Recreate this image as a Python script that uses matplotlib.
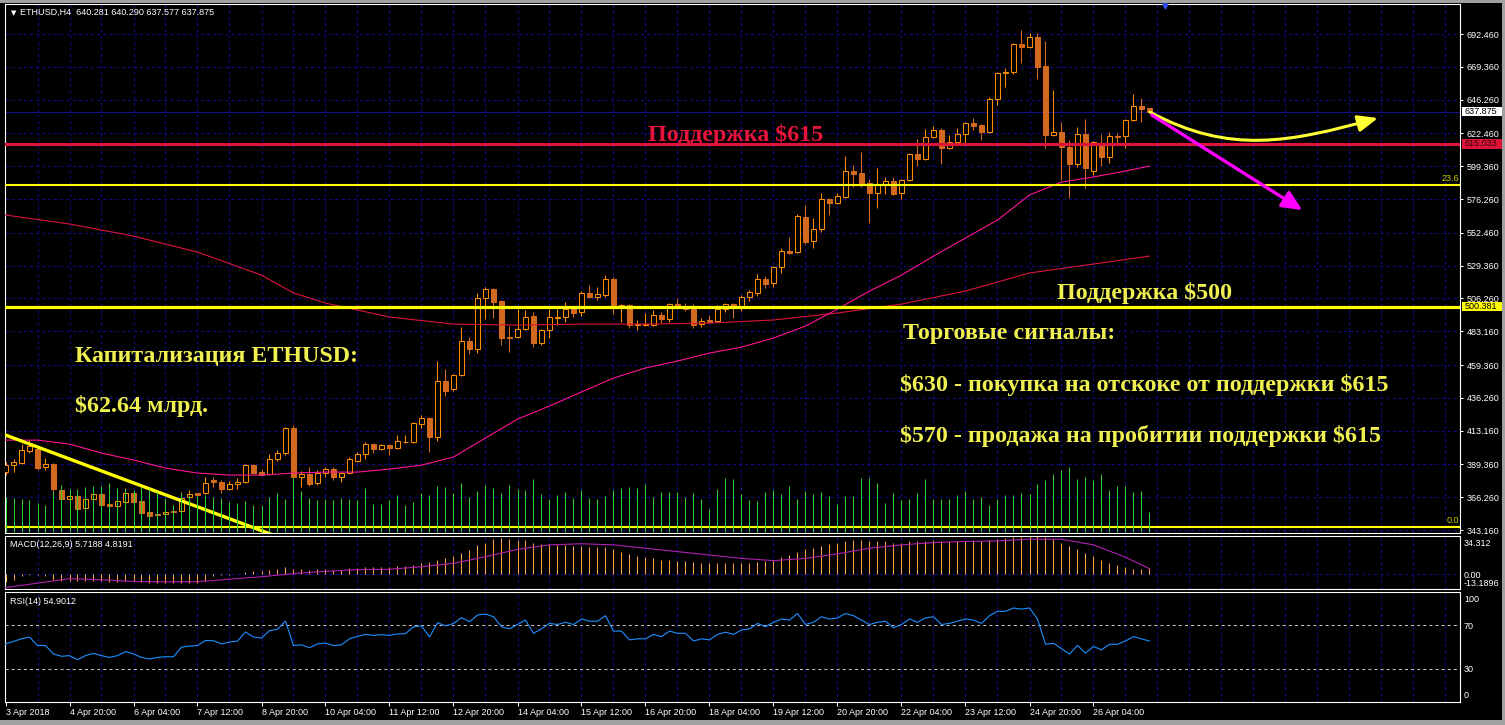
import matplotlib
matplotlib.use('Agg')
import matplotlib.pyplot as plt
from matplotlib.patches import Rectangle, FancyArrowPatch
from matplotlib.path import Path

plt.rcParams['lines.scale_dashes'] = False

W, H = 1505, 725

# ---------------- data (H4 bars, index 0 = 3 Apr 2018 12:00) ----------------
opens = [
    384.0, 388.9, 390.4, 398.8, 400.2, 387.5, 389.7, 371.3, 365.0, 367.1,
    358.7, 365.0, 368.5, 361.5, 360.1, 362.9, 369.2, 363.6, 355.8, 354.4,
    354.4, 356.8, 356.5, 366.4, 369.2, 369.2, 378.4, 377.0, 372.0, 375.6,
    377.0, 388.9, 384.0, 382.6, 393.2, 397.4, 415.0, 380.5, 382.6, 376.3,
    383.3, 386.1, 380.5, 383.3, 391.8, 396.7, 403.7, 400.2, 403.0, 400.9,
    405.1, 405.1, 417.8, 422.0, 408.7, 448.1, 442.5, 452.3, 476.3, 470.6,
    506.5, 512.9, 504.4, 479.1, 479.1, 484.7, 493.9, 474.9, 484.0, 492.5,
    493.2, 498.8, 496.7, 510.1, 507.3, 508.7, 519.9, 500.2, 501.6, 487.5,
    487.9, 487.5, 494.6, 491.8, 502.3, 499.5, 499.5, 488.2, 491.1, 490.3,
    498.8, 502.3, 500.2, 507.3, 510.1, 519.9, 517.1, 528.4, 539.6, 538.9,
    563.6, 546.7, 555.1, 576.3, 573.4, 577.7, 596.0, 594.6, 587.5, 580.5,
    586.8, 588.9, 580.5, 589.6, 607.9, 604.4, 619.9, 624.8, 612.2, 616.4,
    622.0, 629.8, 628.4, 623.4, 646.7, 665.0, 665.7, 685.4, 683.3, 690.3,
    669.9, 621.3, 623.4, 612.9, 600.9, 622.0, 596.0, 615.7, 605.8, 620.6,
    620.6, 631.9, 641.8, 640.281]
highs = [
    391.1, 393.2, 403.7, 406.6, 402.3, 393.9, 390.4, 374.9, 368.5, 367.8,
    367.8, 369.9, 369.2, 362.2, 364.3, 372.7, 370.6, 364.0, 356.5, 354.8,
    356.5, 357.0, 369.9, 371.3, 369.6, 380.5, 380.5, 378.4, 377.7, 379.8,
    389.7, 389.7, 386.1, 396.7, 399.5, 415.7, 417.1, 384.7, 387.5, 385.4,
    387.5, 387.5, 384.0, 394.6, 398.1, 405.1, 404.4, 403.7, 403.7, 410.1,
    410.1, 419.2, 424.2, 422.7, 462.2, 456.6, 453.0, 486.1, 479.1, 510.1,
    514.3, 513.6, 505.1, 486.8, 498.8, 498.1, 496.7, 484.7, 498.8, 498.8,
    503.7, 500.2, 511.5, 515.7, 514.3, 522.7, 521.3, 502.3, 502.3, 491.1,
    496.0, 498.1, 496.7, 503.0, 506.5, 503.0, 502.3, 492.5, 494.6, 501.6,
    503.0, 503.0, 508.7, 512.2, 523.4, 522.0, 529.1, 541.8, 549.5, 565.7,
    572.0, 562.9, 580.5, 577.0, 580.5, 606.5, 600.2, 609.4, 590.3, 598.1,
    591.8, 591.8, 590.3, 608.7, 618.5, 625.6, 627.7, 626.3, 621.3, 626.3,
    630.5, 633.3, 629.1, 648.1, 665.7, 668.5, 686.1, 695.3, 693.2, 693.2,
    687.5, 653.0, 630.5, 617.8, 627.0, 632.6, 617.1, 622.0, 623.4, 622.7,
    632.6, 650.2, 647.4, 640.290]
lows = [
    381.9, 384.0, 389.5, 397.4, 385.4, 385.4, 369.9, 364.3, 364.3, 357.3,
    358.0, 364.3, 360.0, 359.7, 359.4, 362.2, 362.5, 354.8, 352.6, 353.0,
    353.7, 355.5, 355.8, 365.7, 367.5, 368.5, 373.5, 369.2, 371.3, 372.0,
    376.3, 383.0, 381.6, 381.9, 391.8, 396.0, 380.0, 373.5, 374.1, 374.9,
    380.5, 378.4, 377.0, 383.0, 391.1, 393.2, 397.4, 399.5, 396.0, 400.2,
    404.4, 404.4, 415.0, 398.1, 405.8, 437.5, 441.1, 451.6, 467.1, 467.8,
    491.8, 492.5, 473.5, 468.5, 478.4, 484.0, 472.0, 473.5, 478.4, 487.5,
    489.6, 493.2, 493.9, 506.5, 505.1, 507.3, 495.3, 489.6, 485.4, 484.0,
    486.8, 486.8, 489.0, 489.6, 498.8, 497.4, 485.4, 486.1, 489.3, 489.6,
    496.7, 492.5, 497.4, 504.4, 508.0, 513.6, 514.3, 524.2, 537.9, 538.2,
    544.6, 541.8, 553.0, 565.0, 572.7, 577.0, 584.7, 584.7, 559.4, 569.9,
    579.8, 579.1, 576.3, 588.9, 599.5, 603.7, 619.2, 600.9, 611.5, 615.7,
    615.7, 624.9, 617.8, 622.7, 642.5, 655.1, 664.3, 672.0, 682.6, 660.8,
    612.2, 620.6, 589.6, 577.0, 598.8, 584.0, 593.2, 599.5, 601.6, 614.3,
    612.2, 631.2, 630.5, 637.577]
closes = [
    388.9, 391.1, 399.5, 402.3, 386.8, 389.7, 372.0, 365.0, 367.1, 358.0,
    365.0, 368.5, 360.8, 360.0, 363.6, 369.2, 362.9, 355.1, 353.0, 353.5,
    355.8, 355.9, 365.7, 368.5, 367.8, 376.3, 376.9, 372.0, 375.6, 377.0,
    388.9, 383.3, 381.9, 393.2, 397.4, 415.0, 380.5, 382.6, 375.6, 383.3,
    386.1, 380.5, 383.3, 393.2, 396.7, 403.7, 400.2, 403.0, 400.9, 405.8,
    405.5, 418.5, 422.0, 408.7, 448.1, 441.1, 452.3, 476.3, 470.6, 506.5,
    512.9, 503.7, 478.4, 478.4, 484.7, 493.2, 474.9, 484.0, 493.2, 493.2,
    498.8, 496.0, 510.1, 507.3, 509.4, 519.9, 500.9, 501.6, 487.5, 488.2,
    488.2, 494.6, 491.8, 502.3, 499.5, 499.1, 487.5, 490.3, 489.6, 498.8,
    502.3, 500.2, 507.3, 510.8, 519.9, 516.4, 528.4, 539.6, 538.2, 564.3,
    546.0, 555.1, 576.3, 573.4, 578.4, 596.0, 593.9, 586.1, 580.5, 586.8,
    588.9, 579.8, 589.6, 607.9, 604.4, 619.9, 624.8, 612.2, 616.4, 622.0,
    629.8, 627.7, 623.4, 646.7, 665.0, 665.7, 685.4, 683.3, 690.3, 669.2,
    621.3, 623.4, 612.9, 600.9, 622.0, 598.1, 616.4, 605.8, 620.6, 620.3,
    631.9, 641.8, 639.6, 637.875]
volumes = [
    3500, 3400, 3300, 3200, 2900, 2700, 4000, 4700, 4300, 4300,
    4500, 4600, 4600, 4900, 4400, 4300, 4200, 4500, 4300, 4000,
    3400, 2700, 3900, 3700, 3600, 3700, 3500, 3400, 3000, 2900,
    3100, 2700, 2700, 3500, 3900, 3300, 5400, 4100, 3400, 3200,
    3300, 3200, 3400, 3300, 3200, 4400, 2800, 2800, 3200, 3700,
    2700, 3000, 3900, 3700, 4600, 4500, 3900, 4900, 3500, 4100,
    4700, 4400, 3900, 4700, 4300, 4200, 5300, 3800, 3300, 3700,
    4000, 3400, 4200, 3400, 3300, 3600, 4200, 4400, 4500, 4400,
    4800, 3500, 4000, 4000, 4000, 3500, 3900, 3300, 2300, 4300,
    5400, 5300, 3800, 3200, 3100, 4000, 4200, 3800, 4600, 3300,
    4100, 3800, 4000, 3600, 2800, 3600, 3600, 5400, 5400, 4900,
    2900, 3900, 3200, 3300, 3900, 5300, 3300, 3300, 3300, 3700,
    4100, 3300, 3500, 2700, 3300, 3700, 3700, 3900, 3800, 4800,
    5200, 5800, 6200, 6500, 5300, 5500, 5200, 5800, 4200, 4600,
    4600, 4000, 4100, 2000]

ma_slow_idx = [0, 8, 16, 24, 32, 36, 40, 48, 56, 64, 72, 80, 88, 96, 104, 112, 120, 128, 136, 143]
ma_slow = [565.0, 558.7, 550.2, 538.9, 522.7, 510.1, 503.0, 493.2, 488.2, 487.5,
           488.2, 488.2, 488.9, 491.1, 496.0, 502.3, 511.5, 524.2, 530.5, 536.1]
ma_fast_idx = list(range(0, 141, 4)) + [143]
ma_fast = [406.5, 406.5, 403.7, 397.4, 392.5, 386.8, 383.3, 381.9, 381.9, 383.3,
           384.0, 384.0, 386.1, 388.9, 394.6, 408.0, 421.3, 430.5, 440.4, 450.2,
           457.3, 462.2, 467.8, 472.0, 478.4, 486.8, 498.8, 511.5, 522.7, 536.1,
           548.8, 561.5, 579.1, 588.2, 591.8, 596.0, 599.5]

macd_main = [
    -6.7, -5.4, -1.5, -0.5, -1.0, -2.0, -5.5, -6.0, -6.0, -6.5,
    -6.5, -6.5, -6.5, -7.0, -7.0, -6.5, -6.5, -7.0, -7.5, -8.0,
    -8.0, -8.0, -8.0, -8.0, -8.0, -6.0, -2.0, -1.0, -0.5, 0.5,
    1.5, 2.5, 3.0, 4.0, 5.0, 6.5, 5.0, 4.5, 4.0, 4.5,
    5.0, 4.0, 4.0, 5.5, 5.5, 6.0, 6.0, 6.5, 6.5, 7.0,
    7.5, 8.5, 9.5, 10.5, 13.0, 14.5, 16.0, 19.0, 21.5, 26.0,
    28.0, 31.0, 32.0, 31.0, 30.0, 30.0, 28.0, 27.0, 27.0, 26.0,
    26.0, 25.0, 25.0, 24.0, 24.0, 24.0, 22.0, 20.0, 18.0, 16.0,
    15.0, 14.0, 13.0, 13.0, 12.0, 12.0, 11.0, 10.0, 10.0, 10.0,
    10.0, 10.0, 10.0, 10.0, 11.0, 12.0, 13.0, 15.0, 17.0, 20.0,
    22.0, 23.0, 25.0, 27.0, 28.0, 29.0, 30.0, 30.0, 29.0, 29.0,
    29.0, 28.0, 28.0, 29.0, 29.0, 29.0, 30.0, 29.0, 29.0, 29.0,
    29.0, 30.0, 29.0, 30.0, 31.0, 32.0, 33.0, 33.0, 34.0, 34.0,
    33.0, 31.0, 28.0, 25.0, 22.0, 19.0, 16.0, 13.0, 10.0, 8.0,
    6.0, 5.0, 5.0, 5.7188]
macd_sig_idx = list(range(0, 141, 4)) + [143]
macd_sig = [-12.0, -8.0, -4.0, -5.0, -6.5, -6.8, -6.7, -4.5, -2.3, 0.5,
            2.5, 4.0, 4.3, 6.6, 9.6, 15.5, 22.0, 26.0, 27.0, 26.0,
            23.0, 20.0, 17.0, 14.0, 12.0, 14.0, 18.0, 23.0, 26.0, 28.0,
            29.0, 29.5, 31.0, 31.0, 26.0, 15.0, 4.8191]

rsi = [
    52.4, 54.6, 57.0, 58.6, 50.9, 50.9, 43.2, 41.1, 41.7, 38.0,
    41.7, 43.8, 41.7, 40.1, 41.7, 45.4, 43.2, 40.1, 38.6, 40.1,
    40.7, 40.7, 49.4, 50.3, 50.9, 55.5, 55.2, 52.4, 54.0, 54.9,
    63.2, 58.6, 57.7, 64.4, 65.7, 73.1, 50.9, 51.5, 48.8, 52.4,
    53.1, 50.9, 51.5, 57.1, 59.2, 61.0, 60.1, 60.8, 60.1, 61.4,
    61.7, 67.9, 68.8, 58.6, 71.6, 68.8, 70.9, 76.2, 72.5, 78.6,
    79.5, 77.1, 67.9, 66.0, 70.0, 74.0, 62.0, 66.0, 71.0, 70.0,
    72.0, 70.0, 75.0, 73.0, 73.0, 78.0, 64.0, 64.0, 56.0, 57.0,
    57.0, 61.0, 59.0, 64.0, 62.0, 62.0, 55.0, 57.0, 56.0, 61.0,
    63.0, 61.0, 65.0, 66.0, 71.0, 68.0, 72.0, 75.0, 74.0, 80.0,
    70.0, 72.0, 77.0, 75.0, 76.0, 80.0, 78.0, 74.0, 70.0, 72.0,
    73.0, 67.0, 70.0, 75.0, 72.0, 76.0, 77.0, 70.0, 71.0, 73.0,
    75.0, 74.0, 71.0, 78.0, 82.0, 82.0, 85.0, 84.0, 85.0, 75.0,
    52.0, 53.0, 48.0, 43.0, 51.0, 44.0, 50.0, 47.0, 52.0, 52.0,
    55.0, 59.0, 57.0, 54.9012]

price_ticks = [692.46, 669.36, 646.26, 622.46, 599.36, 576.26, 552.46, 529.36,
               506.26, 483.16, 459.36, 436.26, 413.16, 389.36, 366.26, 343.16]
time_idx = list(range(0, 137, 8))
time_labels = ['3 Apr 2018', '4 Apr 20:00', '6 Apr 04:00', '7 Apr 12:00', '8 Apr 20:00',
               '10 Apr 04:00', '11 Apr 12:00', '12 Apr 20:00', '14 Apr 04:00', '15 Apr 12:00',
               '16 Apr 20:00', '18 Apr 04:00', '19 Apr 12:00', '20 Apr 20:00', '22 Apr 04:00',
               '23 Apr 12:00', '24 Apr 20:00', '26 Apr 04:00']

support_615 = 615.033
support_500 = 500.381
bid = 637.875
fib_236 = 586.5
fib_0 = 345.6
trend_x = [-0.2, 36.0]
trend_y = [410.5, 334.3]

# ---------------- styling ----------------
BG = 'black'
GRID = '#0c0c8c'
BULL = '#FF8C00'
BEAR = '#D2691E'
YEL = '#FFFF00'
TXT_Y = '#F0F050'
SMALL = dict(family='Liberation Sans', size=6.5, color='white')


def box(left, top, right, bottom):
    return [left / W, 1 - bottom / H, (right - left) / W, (bottom - top) / H]


def fx(x):
    return x / W


def fy(y):
    return 1 - y / H


fig = plt.figure(figsize=(W / 100, H / 100), dpi=100, facecolor=BG)
ax = fig.add_axes(box(4.7, 4.3, 1460.3, 533))
axm = fig.add_axes(box(4.7, 535.5, 1460.3, 589))
axr = fig.add_axes(box(4.7, 591.5, 1460.3, 701.5))

XMIN, XMAX = -0.1, 181.85
for a in (ax, axm, axr):
    a.set_facecolor(BG)
    a.set_xlim(XMIN, XMAX)
    for s in a.spines.values():
        s.set_color('white')
        s.set_linewidth(0.8)
    for k in range(4, 182, 4):
        a.axvline(k, color=GRID, lw=0.75, ls=(0, (2.2, 2.2)), zorder=0.5)
    a.tick_params(axis='x', bottom=False, labelbottom=False)

# ---------------- main price panel ----------------
ax.set_ylim(341.1, 713.4)
for p in price_ticks:
    ax.axhline(p, color=GRID, lw=0.75, ls=(0, (2.2, 2.2)), zorder=0.5)
ax.axhline(bid, color='#10108a', lw=0.8, zorder=0.6)

# volumes on own scale at the bottom
axv = ax.twinx()
axv.set_ylim(-100, 52770)
axv.set_xlim(XMIN, XMAX)
axv.axis('off')
axv.vlines(range(len(volumes)), 0, volumes, color='#32CD32', lw=0.75, zorder=1)

xs = list(range(len(opens)))
for i in xs:
    o, h, l, c = opens[i], highs[i], lows[i], closes[i]
    col = BULL if c >= o else BEAR
    ax.vlines(i, l, h, color=col, lw=0.75, zorder=3)
    if c >= o:
        ax.bar(i, max(c - o, 0.05), bottom=o, width=0.55, facecolor=BG,
               edgecolor=BULL, lw=0.75, zorder=4)
    else:
        ax.bar(i, o - c, bottom=c, width=0.55, facecolor=BEAR,
               edgecolor=BEAR, lw=0.75, zorder=4)

ax.plot(ma_slow_idx, ma_slow, color='#DC143C', lw=0.8, zorder=5)
ax.plot(ma_fast_idx, ma_fast, color='#FF1493', lw=0.8, zorder=5)

# horizontal levels and trend line
ax.axhline(support_615, color='#DC143C', lw=2.3, zorder=6)
ax.axhline(support_500, color=YEL, lw=2.3, zorder=6)
ax.axhline(fib_236, color=YEL, lw=1.5, zorder=6)
ax.axhline(fib_0, color=YEL, lw=1.5, zorder=6)
ax.plot(trend_x, trend_y, color=YEL, lw=2.4, zorder=6, solid_capstyle='butt')
ax.text(0.9995, fib_236 + 1.0, '23.6', transform=ax.get_yaxis_transform(),
        ha='right', va='bottom', family='Liberation Sans', size=6.5, color='#CCCC00', zorder=7)
ax.text(0.9995, fib_0 + 1.0, '0.0', transform=ax.get_yaxis_transform(),
        ha='right', va='bottom', family='Liberation Sans', size=6.5, color='#CCCC00', zorder=7)

# right price scale
ax.yaxis.tick_right()
ax.set_yticks(price_ticks)
ax.set_yticklabels(['%.3f' % p for p in price_ticks])
ax.tick_params(axis='y', colors='white', labelsize=6.5, length=2.2, width=0.75, pad=2.2)
for t in ax.get_yticklabels():
    t.set_family('Liberation Sans')

for val, face, fg in [(bid, 'white', 'black'), (support_615, '#DC143C', '#300000'),
                      (support_500, YEL, 'black')]:
    ax.add_patch(Rectangle((1.0012, val - 3.3), 0.0282, 6.6, transform=ax.get_yaxis_transform(),
                           facecolor=face, edgecolor='none', clip_on=False, zorder=10))
    ax.text(1.0028, val, '%.3f' % val, transform=ax.get_yaxis_transform(), ha='left',
            va='center', family='Liberation Sans', size=6.5, color=fg, zorder=11, clip_on=False)

# forecast arrows
curve = Path([(143.06, 637.5), (153.06, 607.3), (160.56, 616.4), (171.56, 633.3)],
             [Path.MOVETO, Path.CURVE4, Path.CURVE4, Path.CURVE4])
ax.add_patch(FancyArrowPatch(path=curve, arrowstyle='-|>,head_length=12,head_width=5',
                             mutation_scale=1, color='#FFFF33', lw=2.2, zorder=8))
ax.add_patch(FancyArrowPatch((143.3, 635.4), (162.1, 568.5),
                             arrowstyle='-|>,head_length=12,head_width=5.5',
                             mutation_scale=1, color='#FF00FF', lw=2.4, shrinkA=0,
                             shrinkB=0, zorder=8))

# header and chart-shift marker
ax.text(0.0045, 0.984, '\u25BC', transform=ax.transAxes, color='white', size=5, va='center')
ax.text(0.0105, 0.984, 'ETHUSD,H4  640.281 640.290 637.577 637.875', transform=ax.transAxes,
        va='center', **SMALL)
ax.plot([144.9], [712.0], marker='v', ms=3.5, color='#3050FF', clip_on=False, zorder=12)

# ---------------- MACD panel ----------------
axm.set_ylim(-13.1896, 34.312)
axm.axhline(0, color=GRID, lw=0.75, ls=(0, (2.2, 2.2)), zorder=0.5)
axm.vlines(range(len(macd_main)), 0, macd_main, color='#FFA040', lw=0.75, zorder=2)
axm.plot(macd_sig_idx, macd_sig, color='#B020B0', lw=0.8, zorder=3)
axm.set_yticks([])
axm.text(0.0033, 0.83, 'MACD(12,26,9) 5.7188 4.8191', transform=axm.transAxes,
         va='center', **SMALL)

# ---------------- RSI panel ----------------
axr.set_ylim(0, 100)
for lvl in (70, 30):
    axr.axhline(lvl, color='#C0C0C0', lw=0.75, ls=(0, (2.2, 2.2)), zorder=1)
axr.plot(xs, rsi, color='#1E90FF', lw=0.8, zorder=3)
axr.set_yticks([])
axr.text(0.0033, 0.905, 'RSI(14) 54.9012', transform=axr.transAxes, va='center', **SMALL)

axr.set_xticks(time_idx)
axr.set_xticklabels(time_labels, ha='left')
axr.tick_params(axis='x', bottom=True, labelbottom=True, colors='white', labelsize=6.5,
                length=3, width=0.75, pad=1.5)
for t in axr.get_xticklabels():
    t.set_family('Liberation Sans')

for y, s in [(543, '34.312'), (576, '0.00'), (583.3, '-13.1896'),
             (599.3, '100'), (626.7, '70'), (669.3, '30'), (695.7, '0')]:
    fig.text(fx(1464), fy(y), s, va='center', ha='left', **SMALL)

# ---------------- annotations ----------------
BIG = dict(family='Liberation Serif', weight='bold', size=17.3, va='baseline', parse_math=False)
fig.text(fx(648), fy(140.5), 'Поддержка $615', color='#E8143C', **BIG)
fig.text(fx(1057), fy(299), 'Поддержка $500', color=TXT_Y, **BIG)
fig.text(fx(903), fy(339), 'Торговые сигналы:', color=TXT_Y, **BIG)
fig.text(fx(900), fy(391), '$630 - покупка на отскоке от поддержки $615', color=TXT_Y, **BIG)
fig.text(fx(900), fy(442), '$570 - продажа на пробитии поддержки $615', color=TXT_Y, **BIG)
fig.text(fx(75), fy(362), 'Капитализация ETHUSD:', color=TXT_Y, **BIG)
fig.text(fx(75), fy(412), '$62.64 млрд.', color=TXT_Y, **BIG)

# window frame
for rect in [(0, 0, W, 2.7), (1502, 0, 3, H), (0, 720, W, 5)]:
    x, y, w, h = rect
    fig.add_artist(Rectangle((fx(x), fy(y + h)), w / W, h / H, transform=fig.transFigure,
                             facecolor='#a0a0a0', edgecolor='none'))

fig.savefig('out.png', dpi=100, facecolor=BG)
